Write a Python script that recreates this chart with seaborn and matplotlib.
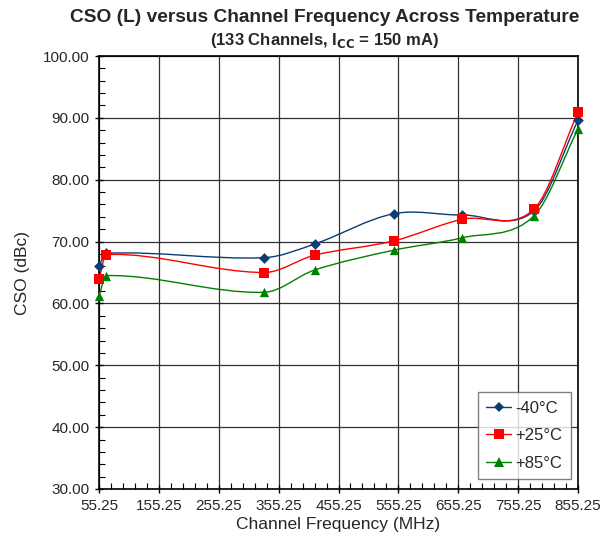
import numpy as np
import pandas as pd
import seaborn as sns
import matplotlib
matplotlib.use("Agg")
import matplotlib.pyplot as plt
from matplotlib.path import Path
from matplotlib.patches import PathPatch
from matplotlib.lines import Line2D
from matplotlib.ticker import MultipleLocator, FixedLocator

# Données
freq_mhz = [55.25, 67.25, 331.25, 415.25, 547.25, 661.25, 781.25, 855.25]
cso_m40 = [66.1, 68.1, 67.4, 69.6, 74.5, 74.3, 74.9, 89.6]
cso_p25 = [63.9, 67.9, 65.0, 67.8, 70.1, 73.6, 75.2, 90.9]
cso_p85 = [61.2, 64.5, 61.8, 65.4, 68.6, 70.6, 74.1, 88.2]

series_labels = ["-40°C", "+25°C", "+85°C"]
series_colors = ["#0a3d73", "#ff0000", "#008000"]
series_markers = ["D", "s", "^"]
marker_sizes = [30, 45, 45]

xticks = [55.25, 155.25, 255.25, 355.25, 455.25, 555.25, 655.25, 755.25, 855.25]

df = pd.DataFrame({
    "freq": freq_mhz * 3,
    "cso": cso_m40 + cso_p25 + cso_p85,
    "temp": [series_labels[0]] * 8 + [series_labels[1]] * 8 + [series_labels[2]] * 8,
})

sns.set_style("white")
plt.rcParams["font.family"] = ["Liberation Sans", "DejaVu Sans"]


def smooth_path(x, y):
    # courbe lissée (Hermite cubique -> Bézier), comme le lissage d'Excel
    x = np.asarray(x, float)
    y = np.asarray(y, float)
    n = len(x)
    m = np.zeros(n)
    m[0] = (y[1] - y[0]) / (x[1] - x[0])
    m[-1] = (y[-1] - y[-2]) / (x[-1] - x[-2])
    for i in range(1, n - 1):
        m[i] = (y[i + 1] - y[i - 1]) / (x[i + 1] - x[i - 1])
    verts = [(x[0], y[0])]
    codes = [Path.MOVETO]
    for i in range(n - 1):
        h = x[i + 1] - x[i]
        verts += [(x[i] + h / 3, y[i] + m[i] * h / 3),
                  (x[i + 1] - h / 3, y[i + 1] - m[i + 1] * h / 3),
                  (x[i + 1], y[i + 1])]
        codes += [Path.CURVE4] * 3
    return Path(verts, codes)


fig = plt.figure(figsize=(6.13, 5.44), dpi=100)
ax = fig.add_axes([99 / 613, 1 - 489 / 544, 479 / 613, 433 / 544])

for vals, col in zip([cso_m40, cso_p25, cso_p85], series_colors):
    ax.add_patch(PathPatch(smooth_path(freq_mhz, vals), facecolor="none",
                           edgecolor=col, lw=1.0, zorder=3))

for lab, col, mk, ms in zip(series_labels, series_colors, series_markers, marker_sizes):
    sub = df[df["temp"] == lab]
    sns.scatterplot(data=sub, x="freq", y="cso", color=col, marker=mk, s=ms,
                    edgecolor=col, linewidth=0, ax=ax, zorder=4, clip_on=False)

ax.set_xlim(55.25, 855.25)
ax.set_ylim(30, 100)
ax.xaxis.set_major_locator(FixedLocator(xticks))
ax.xaxis.set_minor_locator(FixedLocator(np.arange(55.25, 855.3, 20)))
ax.yaxis.set_major_locator(MultipleLocator(10))
ax.yaxis.set_minor_locator(MultipleLocator(2))
ax.set_xticklabels([f"{t:.2f}" for t in xticks])
ax.yaxis.set_major_formatter(plt.FuncFormatter(lambda v, p: f"{v:.2f}"))

ax.grid(True, which="major", color="#303030", lw=0.9)
ax.tick_params(which="major", direction="inout", length=6, width=1, labelsize=11,
               left=True, bottom=True, color="black", pad=4)
ax.tick_params(which="minor", direction="in", length=4, width=0.8, left=True,
               bottom=True, color="black")
for s in ax.spines.values():
    s.set_color("black")
    s.set_linewidth(1.2)

ax.set_xlabel("Channel Frequency (MHz)", fontsize=12.5, labelpad=3)
ax.set_ylabel("CSO (dBc)", fontsize=12.5, labelpad=9)

fig.text(325 / 613, 1 - 17 / 544, "CSO (L) versus Channel Frequency Across Temperature",
         ha="center", va="center", fontsize=13.8, fontweight="bold")
fig.text(325 / 613, 1 - 40 / 544, r"(133 Channels, I$_{\mathbf{CC}}$ = 150 mA)",
         ha="center", va="center", fontsize=12, fontweight="bold")

handles = [Line2D([0], [0], color=c, marker=m, markersize=6.5 if m != "D" else 5,
                  lw=1.0, markeredgewidth=0)
           for c, m in zip(series_colors, series_markers)]
leg = ax.legend(handles, series_labels, loc="lower right", bbox_to_anchor=(0.985, 0.023),
                fontsize=12, frameon=True, fancybox=False, handlelength=1.5,
                labelspacing=0.75, borderpad=0.5, handletextpad=0.25, borderaxespad=0)
leg.get_frame().set_edgecolor("#606060")
leg.get_frame().set_linewidth(1.0)

fig.savefig("out.png", dpi=100)
